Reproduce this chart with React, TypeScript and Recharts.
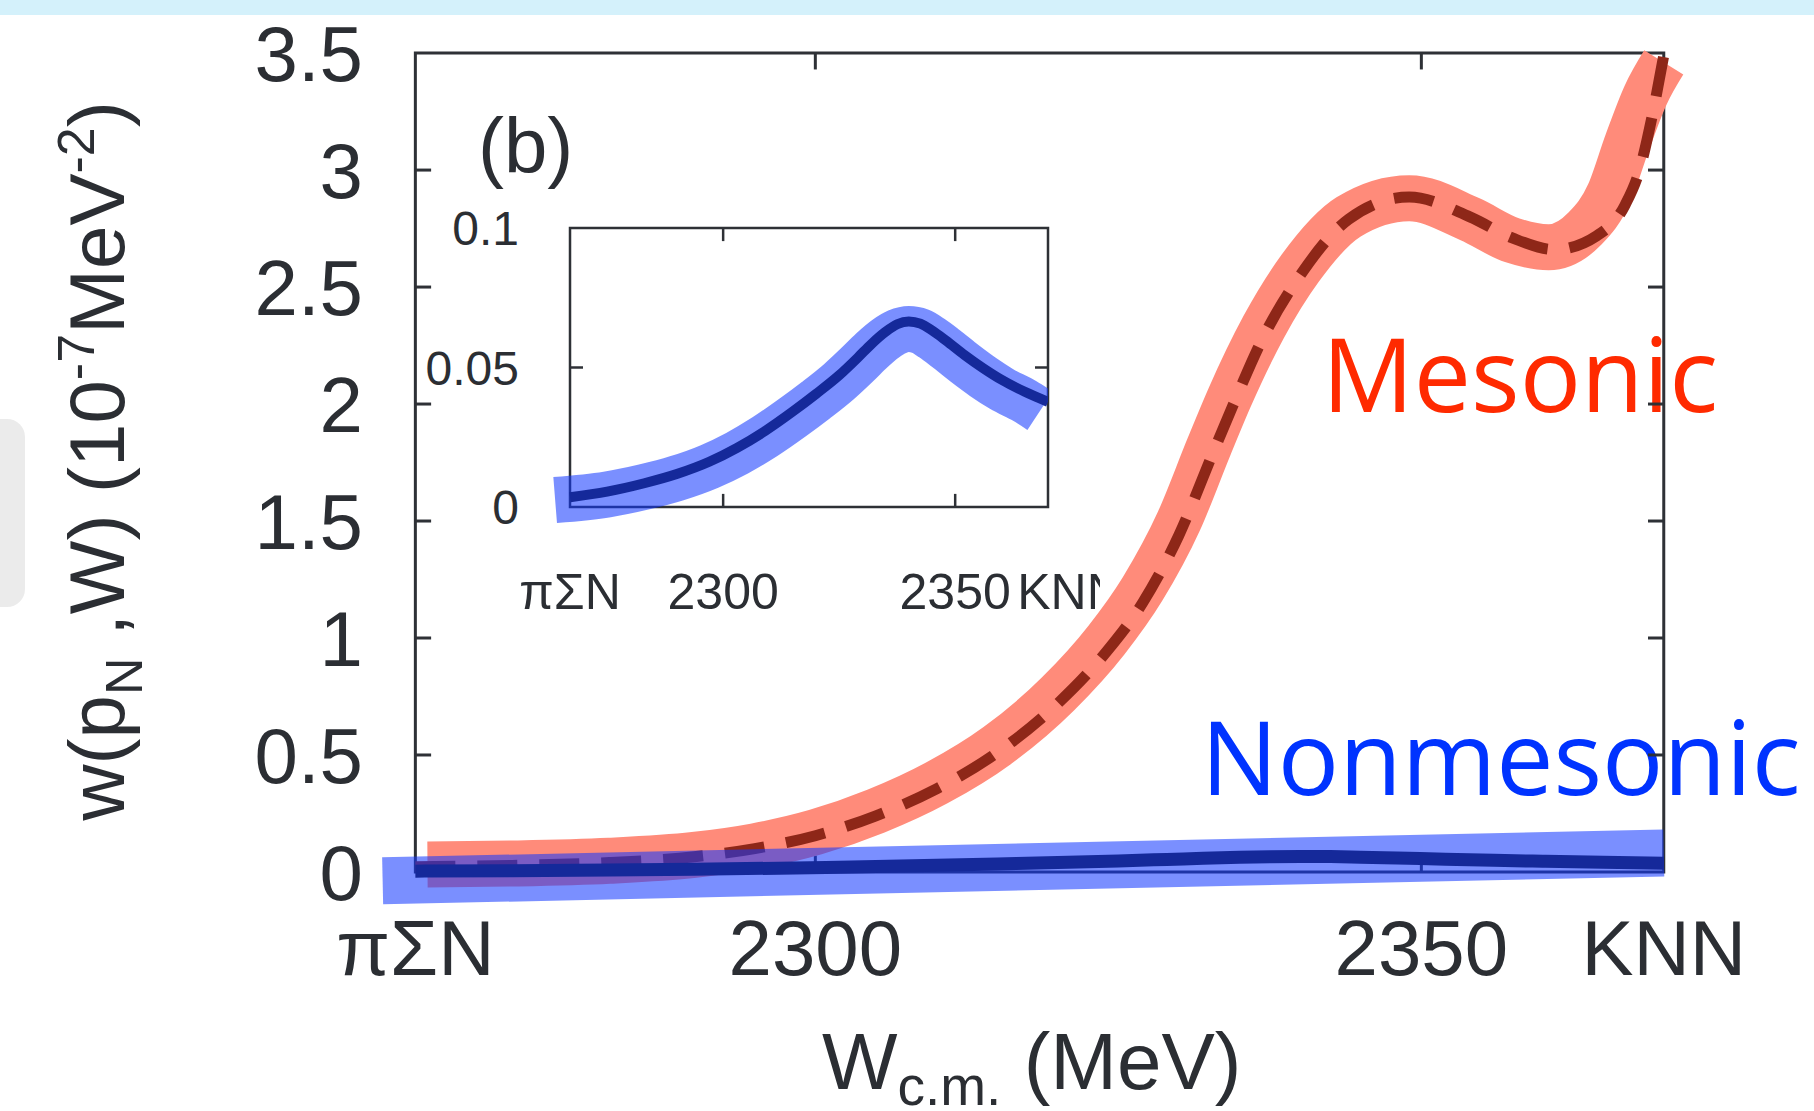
import React from 'react'
import {
  LineChart,
  Line,
  XAxis,
  YAxis,
  ReferenceArea,
  ReferenceLine,
} from 'recharts'

// W range: πΣN threshold .. K̄NN threshold (MeV)
const W_MIN = 2267
const W_MAX = 2370

// plotted ranges are a bit wider than the boxed frame, the highlighter strokes run past it
const mainXDomain = [2264, 2372]
const mainYDomain = [-0.154, 3.526]
const insetXDomain = [2263.12, 2370]
const insetYDomain = [-0.00717, 0.1]

const xTicks = [2267, 2300, 2350, 2370]
const xTickLabels = ['πΣN', '2300', '2350', 'KNN']
const yTicks = [0, 0.5, 1, 1.5, 2, 2.5, 3, 3.5]
const insetYTicks = [0, 0.05, 0.1]

// mesonic spectrum (dashed), 10^-7 MeV^-2
const mesonicW = [
  2267, 2275, 2283, 2290, 2295, 2300, 2305, 2310, 2315, 2320, 2324, 2327, 2330,
  2332.8, 2334.5, 2337, 2340, 2344, 2349, 2354, 2357.5, 2361, 2364.5, 2366.8,
  2368, 2369, 2370,
]
const mesonicVal = [
  0.022, 0.028, 0.04, 0.065, 0.1, 0.155, 0.24, 0.355, 0.51, 0.72, 0.94, 1.15,
  1.44, 1.79, 2.0, 2.29, 2.55, 2.79, 2.885, 2.8, 2.71, 2.66, 2.72, 2.85, 3.0,
  3.22, 3.49,
]

// hand-drawn highlighter over the mesonic curve
const mesonicMarkW = [
  2268, 2275, 2283, 2290, 2295, 2300, 2305, 2310, 2315, 2320, 2324, 2327, 2330,
  2332.5, 2334.2, 2337, 2340, 2344, 2349, 2354, 2357.5, 2360.5, 2363.5, 2365.5,
  2367, 2368.5, 2370,
]
const mesonicMarkVal = [
  0.032, 0.036, 0.048, 0.073, 0.11, 0.17, 0.26, 0.38, 0.54, 0.76, 0.99, 1.21,
  1.5, 1.82, 2.03, 2.33, 2.58, 2.8, 2.88, 2.79, 2.7, 2.67, 2.75, 2.9, 3.12,
  3.32, 3.46,
]

// nonmesonic spectrum (solid), same units
const nonmesonicW = [
  2267, 2275, 2283, 2290, 2297, 2303, 2309, 2315, 2320, 2325, 2329, 2332, 2335,
  2337.5, 2340, 2342.5, 2345, 2348, 2352, 2356, 2360, 2365, 2370,
]
const nonmesonicVal = [
  0.0035, 0.0055, 0.0085, 0.0118, 0.0162, 0.0212, 0.0272, 0.0342, 0.0405,
  0.0472, 0.0535, 0.0585, 0.0628, 0.0655, 0.0665, 0.0657, 0.0633, 0.0597,
  0.0545, 0.0498, 0.0456, 0.0413, 0.0377,
]

// highlighter over the nonmesonic curve (main panel: one straight stroke)
const nonmesonicMarkW = [2264.3, 2370]
const nonmesonicMarkVal = [-0.038, 0.081]

// highlighter over the nonmesonic curve in the inset
const insetMarkW = [
  2263.8, 2275, 2283, 2290, 2297, 2303, 2309, 2315, 2320, 2325, 2329, 2332,
  2335, 2337.5, 2340, 2342.5, 2345, 2348, 2352, 2356, 2360, 2365, 2368.3,
]
const insetMarkVal = [
  0.0025, 0.0045, 0.0072, 0.0103, 0.0145, 0.0193, 0.0252, 0.0321, 0.0383,
  0.045, 0.0512, 0.0561, 0.0603, 0.0628, 0.0638, 0.063, 0.0605, 0.0568, 0.0515,
  0.0466, 0.0423, 0.038, 0.0345,
]

const rows = (xs: number[], ys: number[]) => xs.map((x, i) => ({ x, y: ys[i] }))

const mesonic = rows(mesonicW, mesonicVal)
const mesonicMark = rows(mesonicMarkW, mesonicMarkVal)
const nonmesonic = rows(nonmesonicW, nonmesonicVal)
const nonmesonicMark = rows(nonmesonicMarkW, nonmesonicMarkVal)
const insetMark = rows(insetMarkW, insetMarkVal)

const AXIS_COLOR = '#2e3136'
const TEXT_COLOR = '#2b2e33'
const FONT = '"Liberation Sans", Arial, Helvetica, sans-serif'
const SLIDE_FONT = '"Open Sans", "Noto Sans", sans-serif'
const RED_MARK = '#ff8b7a'
const RED_LINE = '#8e2718'
const BLUE_MARK = 'rgb(18,55,255)'
const NAVY = '#15299a'

// frame with inward ticks on all four sides, in data units
const boxMarks = (
  yTop: number,
  xTicksIn: number[],
  yTicksIn: number[],
  lenX: number,
  lenY: number,
  width: number,
) => {
  const out: React.ReactNode[] = [
    <ReferenceArea
      key="box"
      x1={W_MIN}
      x2={W_MAX}
      y1={0}
      y2={yTop}
      fill="none"
      stroke={AXIS_COLOR}
      strokeWidth={width}
      ifOverflow="visible"
    />,
  ]
  xTicksIn.forEach((t) => {
    out.push(
      <ReferenceLine key={`tb${t}`} segment={[{ x: t, y: 0 }, { x: t, y: lenY }]}
        stroke={AXIS_COLOR} strokeWidth={width} ifOverflow="visible" />,
      <ReferenceLine key={`tt${t}`} segment={[{ x: t, y: yTop }, { x: t, y: yTop - lenY }]}
        stroke={AXIS_COLOR} strokeWidth={width} ifOverflow="visible" />,
    )
  })
  yTicksIn.forEach((t) => {
    out.push(
      <ReferenceLine key={`tl${t}`} segment={[{ x: W_MIN, y: t }, { x: W_MIN + lenX, y: t }]}
        stroke={AXIS_COLOR} strokeWidth={width} ifOverflow="visible" />,
      <ReferenceLine key={`tr${t}`} segment={[{ x: W_MAX, y: t }, { x: W_MAX - lenX, y: t }]}
        stroke={AXIS_COLOR} strokeWidth={width} ifOverflow="visible" />,
    )
  })
  return out
}

const InsetXTick = ({ x, y, payload }: any) => {
  const i = xTicks.indexOf(payload.value)
  const shift = payload.value === W_MAX ? 22 : 0
  return (
    <text x={x + shift} y={y} dy="0.71em" textAnchor="middle"
      fontFamily={FONT} fontSize={50} fill={TEXT_COLOR}>
      {xTickLabels[i]}
    </text>
  )
}

const Annotations = () => (
  <svg width={1814} height={1111} style={{ position: 'absolute', left: 0, top: 0 }}>
    <rect x={0} y={0} width={1814} height={15} fill="#d4f1fb" />
    <rect x={-20} y={419} width={45} height={188} rx={18} fill="#ebebeb" />
    <text
      transform="translate(124,461) rotate(-90)"
      textAnchor="middle"
      fontFamily={FONT}
      fontSize={78}
      fill={TEXT_COLOR}
    >
      w(p<tspan fontSize={52} dy={18}>N</tspan>
      <tspan dy={-18}> ,W) (10</tspan>
      <tspan fontSize={52} dy={-30}>-7</tspan>
      <tspan dy={30}>MeV</tspan>
      <tspan fontSize={52} dy={-30}>-2</tspan>
      <tspan dy={30}>)</tspan>
    </text>
    <text x={822} y={1089} fontFamily={FONT} fontSize={80} fill={TEXT_COLOR}>
      W<tspan fontSize={55} dy={16}>c.m.</tspan>
      <tspan dy={-16}> (MeV)</tspan>
    </text>
    <text x={478} y={173} fontFamily={FONT} fontSize={78} fill={TEXT_COLOR}>
      (b)
    </text>
    <text x={1322} y={412} fontFamily={SLIDE_FONT} fontSize={102} fill="#ff2a00">
      Mesonic
    </text>
    <text x={1201} y={795} fontFamily={SLIDE_FONT} fontSize={102} fill="#0033ff">
      Nonmesonic
    </text>
  </svg>
)

const Inset = () => (
  <div style={{ position: 'absolute', left: 400, top: 180 }}>
    <LineChart width={700} height={460} margin={{ top: 48, right: 52, bottom: 43, left: 62 }}>
      <XAxis
        type="number"
        dataKey="x"
        domain={insetXDomain}
        allowDataOverflow
        ticks={xTicks}
        interval={0}
        axisLine={false}
        tickLine={false}
        tickSize={0}
        tickMargin={46}
        height={70}
        tick={<InsetXTick />}
      />
      <YAxis
        type="number"
        domain={insetYDomain}
        allowDataOverflow
        ticks={insetYTicks}
        interval={0}
        axisLine={false}
        tickLine={false}
        tickSize={0}
        tickMargin={33}
        width={90}
        tick={{ fontFamily: FONT, fontSize: 48, fill: TEXT_COLOR }}
      />
      {boxMarks(0.1, [2300, 2350], [0.05], 2.8, 0.0047, 2.5)}
      <Line data={insetMark} dataKey="y" type="monotone" stroke={BLUE_MARK}
        strokeOpacity={0.56} strokeWidth={46} dot={false} activeDot={false}
        isAnimationActive={false} />
      <Line data={nonmesonic} dataKey="y" type="monotone" stroke={NAVY}
        strokeWidth={10} dot={false} activeDot={false} isAnimationActive={false} />
    </LineChart>
  </div>
)

const MainPanel = () => (
  <div style={{ position: 'absolute', left: 0, top: 0 }}>
    <LineChart width={1814} height={1111} margin={{ top: 47, right: 126, bottom: 103, left: 259 }}>
      <XAxis
        type="number"
        dataKey="x"
        domain={mainXDomain}
        allowDataOverflow
        ticks={xTicks}
        interval={0}
        tickFormatter={(v: number) => xTickLabels[xTicks.indexOf(v)]}
        axisLine={false}
        tickLine={false}
        tickSize={0}
        tickMargin={12}
        height={100}
        tick={{ fontFamily: FONT, fontSize: 78, fill: TEXT_COLOR }}
      />
      <YAxis
        type="number"
        domain={mainYDomain}
        allowDataOverflow
        ticks={yTicks}
        interval={0}
        axisLine={false}
        tickLine={false}
        tickSize={0}
        tickMargin={16}
        width={120}
        tick={{ fontFamily: FONT, fontSize: 78, fill: TEXT_COLOR }}
      />
      {boxMarks(3.5, [2300, 2350], [0.5, 1, 1.5, 2, 2.5, 3], 1.3, 0.07, 3)}
      <Line data={mesonicMark} dataKey="y" type="monotone" stroke={RED_MARK}
        strokeWidth={46} dot={false} activeDot={false} isAnimationActive={false} />
      <Line data={mesonic} dataKey="y" type="monotone" stroke={RED_LINE}
        strokeWidth={11} strokeDasharray="40 22" dot={false} activeDot={false}
        isAnimationActive={false} />
      <Line data={nonmesonicMark} dataKey="y" type="linear" stroke={BLUE_MARK}
        strokeOpacity={0.56} strokeWidth={47} dot={false} activeDot={false}
        isAnimationActive={false} />
      <Line data={nonmesonic} dataKey="y" type="monotone" stroke={NAVY}
        strokeWidth={13} dot={false} activeDot={false} isAnimationActive={false} />
    </LineChart>
  </div>
)

export default function App() {
  return (
    <div
      style={{
        position: 'absolute',
        left: 0,
        top: 0,
        width: 1814,
        height: 1111,
        background: '#ffffff',
        overflow: 'hidden',
      }}
    >
      <Annotations />
      <Inset />
      <MainPanel />
    </div>
  )
}
